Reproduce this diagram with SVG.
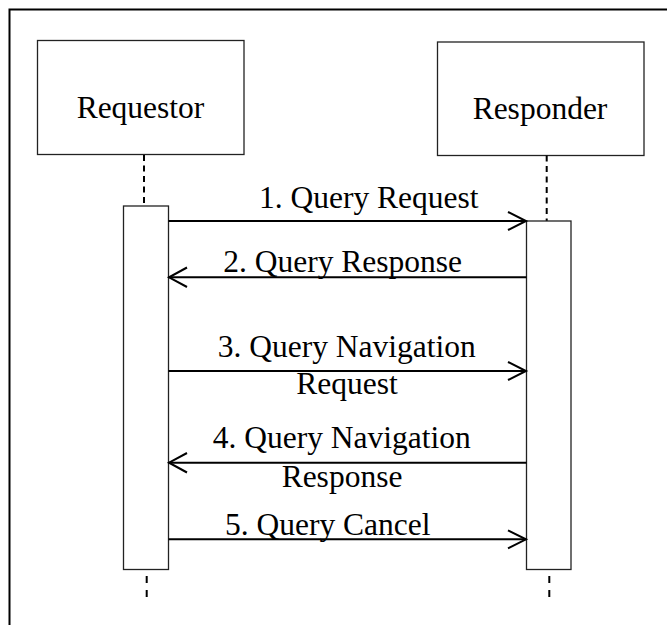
<svg xmlns="http://www.w3.org/2000/svg" width="667" height="625" viewBox="0 0 667 625">
  <style>
    .lbl { font-family: "Liberation Serif", "Times New Roman", serif; font-size: 31.5px; fill: #000; text-anchor: middle; }
    .box { fill: #fff; stroke: #222; stroke-width: 1.3; }
    .life { stroke: #000; stroke-width: 2; fill: none; }
    .msg { stroke: #000; stroke-width: 2; fill: none; }
    .head { stroke: #000; stroke-width: 2; fill: none; }
  </style>
  <rect width="667" height="625" fill="#fff"/>
  <rect id="frame" x="9.5" y="9.5" width="700" height="700" fill="none" stroke="#000" stroke-width="2"/>

  <g id="requestor">
    <rect class="box" x="37.5" y="40.5" width="206.5" height="114"/>
    <text class="lbl" x="140.5" y="117.5">Requestor</text>
    <line class="life" x1="144" y1="155" x2="144" y2="206" stroke-dasharray="6 4.5"/>
    <rect class="box" x="123.5" y="206" width="45" height="363.5"/>
    <line class="life" x1="146.7" y1="576" x2="146.7" y2="598" stroke-dasharray="7 7"/>
  </g>

  <g id="responder">
    <rect class="box" x="437.5" y="42" width="206.5" height="113.5"/>
    <text class="lbl" x="540" y="118.5">Responder</text>
    <line class="life" x1="546.7" y1="155.5" x2="546.7" y2="221" stroke-dasharray="6 4.5"/>
    <rect class="box" x="526.5" y="221" width="44.5" height="348.5"/>
    <line class="life" x1="549.3" y1="576" x2="549.3" y2="598" stroke-dasharray="7 7"/>
  </g>

  <g id="connectors">
    <line class="msg" x1="168.5" y1="221" x2="526" y2="221"/>
    <polyline class="head" points="508,212 526,221 508,230"/>
    <line class="msg" x1="526.5" y1="277.3" x2="169" y2="277.3"/>
    <polyline class="head" points="187,267.5 169,277.3 187,287"/>
    <line class="msg" x1="168.5" y1="371" x2="526" y2="371"/>
    <polyline class="head" points="508,362 526,371 508,380"/>
    <line class="msg" x1="526.5" y1="462.7" x2="169" y2="462.7"/>
    <polyline class="head" points="187,453 169,462.7 187,472.5"/>
    <line class="msg" x1="168.5" y1="539.3" x2="526" y2="539.3"/>
    <polyline class="head" points="508,530.3 526,539.3 508,548.3"/>
  </g>

  <g id="labels">
    <text class="lbl" x="368.8" y="208.3">1. Query Request</text>
    <text class="lbl" x="342.6" y="271.7">2. Query Response</text>
    <text class="lbl" x="346.7" y="356.7">3. Query Navigation</text>
    <text class="lbl" x="347" y="394">Request</text>
    <text class="lbl" x="341.7" y="448.3">4. Query Navigation</text>
    <text class="lbl" x="342" y="486.7">Response</text>
    <text class="lbl" x="327.8" y="535">5. Query Cancel</text>
  </g>
</svg>
